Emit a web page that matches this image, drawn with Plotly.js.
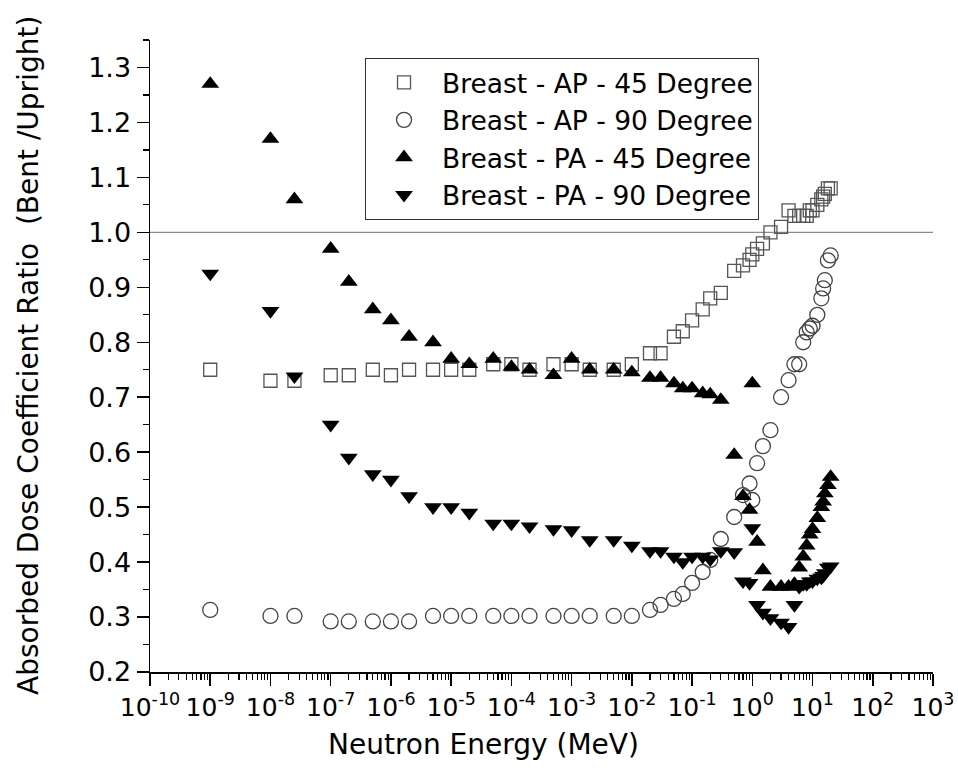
<!DOCTYPE html>
<html>
<head>
<meta charset="utf-8">
<script src="https://cdn.plot.ly/plotly-3.0.1.min.js"></script>
<style>html,body{margin:0;padding:0;background:#fff;}#chart{width:958px;height:777px;}</style>
</head>
<body>
<div id="chart"></div>
<script>
// Neutron energies (MeV)
const energy = [1e-9, 1e-8, 2.5e-8, 1e-7, 2e-7, 5e-7, 1e-6, 2e-6, 5e-6, 1e-5, 2e-5, 5e-5, 1e-4, 2e-4, 5e-4, 1e-3, 2e-3, 5e-3,
  0.01, 0.02, 0.03, 0.05, 0.07, 0.1, 0.15, 0.2, 0.3, 0.5, 0.7, 0.9, 1, 1.2, 1.5, 2, 3, 4, 5, 6, 7, 8, 9, 10, 12, 14, 15, 16, 18, 20];

const apDeg45 = [0.75, 0.73, 0.73, 0.74, 0.74, 0.75, 0.74, 0.75, 0.75, 0.75, 0.75, 0.76, 0.76, 0.75, 0.76, 0.76, 0.75, 0.75,
  0.76, 0.78, 0.78, 0.81, 0.82, 0.84, 0.86, 0.88, 0.89, 0.93, 0.94, 0.95, 0.96, 0.97, 0.98, 1.00, 1.01, 1.04, 1.03, 1.03, 1.03, 1.03, 1.04, 1.04, 1.05, 1.06, 1.065, 1.07, 1.08, 1.08];

const apDeg90 = [0.313, 0.302, 0.302, 0.292, 0.292, 0.292, 0.292, 0.292, 0.302, 0.302, 0.302, 0.302, 0.302, 0.302, 0.302, 0.302, 0.302, 0.302,
  0.302, 0.313, 0.322, 0.333, 0.342, 0.362, 0.382, 0.404, 0.442, 0.482, 0.522, 0.543, 0.513, 0.58, 0.611, 0.64, 0.70, 0.731, 0.76, 0.76, 0.80, 0.818, 0.825, 0.83, 0.85, 0.88, 0.898, 0.913, 0.949, 0.958];

const paDeg45 = [1.27, 1.17, 1.06, 0.97, 0.91, 0.86, 0.84, 0.81, 0.80, 0.77, 0.76, 0.77, 0.755, 0.75, 0.74, 0.77, 0.75, 0.75,
  0.745, 0.735, 0.735, 0.725, 0.716, 0.716, 0.707, 0.705, 0.695, 0.595, 0.52, 0.495, 0.725, 0.437, 0.385, 0.355, 0.355, 0.355, 0.36, 0.39, 0.41, 0.43, 0.45, 0.46, 0.48, 0.50, 0.51, 0.525, 0.54, 0.555];

const paDeg90 = [0.925, 0.857, 0.738, 0.65, 0.59, 0.56, 0.55, 0.52, 0.50, 0.50, 0.49, 0.47, 0.47, 0.465, 0.46, 0.458, 0.44, 0.44,
  0.43, 0.42, 0.42, 0.41, 0.40, 0.41, 0.41, 0.405, 0.42, 0.418, 0.365, 0.362, 0.462, 0.322, 0.308, 0.298, 0.29, 0.282, 0.322, 0.355, 0.36, 0.36, 0.365, 0.365, 0.37, 0.372, 0.375, 0.38, 0.39, 0.392];

const seriesNames = ['Breast - AP - 45 Degree', 'Breast - AP - 90 Degree', 'Breast - PA - 45 Degree', 'Breast - PA - 90 Degree'];

const xTickVals = [1e-10, 1e-9, 1e-8, 1e-7, 1e-6, 1e-5, 1e-4, 1e-3, 1e-2, 1e-1, 1e0, 1e1, 1e2, 1e3];
const xTickText = ['10<sup>-10</sup>', '10<sup>-9</sup>', '10<sup>-8</sup>', '10<sup>-7</sup>', '10<sup>-6</sup>', '10<sup>-5</sup>',
  '10<sup>-4</sup>', '10<sup>-3</sup>', '10<sup>-2</sup>', '10<sup>-1</sup>', '10<sup>0</sup>', '10<sup>1</sup>', '10<sup>2</sup>', '10<sup>3</sup>'];

const xTitle = 'Neutron Energy (MeV)';
const yTitle = 'Absorbed Dose Coefficient Ratio\u00A0 (Bent /Upright)';
const referenceRatio = 1.0;

const FONT = 'DejaVu Sans, Verdana, sans-serif';

const traces = [
  {x: energy, y: apDeg45, name: seriesNames[0], mode: 'markers', type: 'scatter',
   marker: {symbol: 'square-open', size: 13, color: '#555555', line: {width: 1.3}}},
  {x: energy, y: apDeg90, name: seriesNames[1], mode: 'markers', type: 'scatter',
   marker: {symbol: 'circle-open', size: 15, color: '#444444', line: {width: 1.3}}},
  {x: energy, y: paDeg45, name: seriesNames[2], mode: 'markers', type: 'scatter',
   marker: {symbol: 'triangle-up', size: 15.5, color: '#000000', line: {width: 0}}},
  {x: energy, y: paDeg90, name: seriesNames[3], mode: 'markers', type: 'scatter',
   marker: {symbol: 'triangle-down', size: 15.5, color: '#000000', line: {width: 0}}}
];

const layout = {
  width: 958, height: 777,
  margin: {l: 150, r: 25, t: 40, b: 105, pad: 0},
  paper_bgcolor: '#ffffff', plot_bgcolor: '#ffffff',
  font: {family: FONT, color: '#000000', size: 25},
  showlegend: true,
  legend: {
    x: 0.2746, y: 0.972, xanchor: 'left', yanchor: 'top',
    bordercolor: '#333333', borderwidth: 1, bgcolor: '#ffffff',
    font: {family: FONT, size: 26.5, color: '#000000'},
    itemwidth: 66, tracegroupgap: 0
  },
  xaxis: {
    type: 'log', range: [-10, 3], autorange: false,
    tickmode: 'array', tickvals: xTickVals, ticktext: xTickText,
    ticks: 'outside', ticklen: 12, tickwidth: 1.5, tickcolor: '#000',
    minor: {dtick: 'D1', ticks: 'outside', ticklen: 6, tickwidth: 1.2, tickcolor: '#000', showgrid: false},
    showline: true, linecolor: '#000', linewidth: 1.5,
    showgrid: false, zeroline: false,
    tickfont: {family: FONT, size: 25},
    automargin: false
  },
  yaxis: {
    range: [0.2, 1.35], autorange: false,
    tickmode: 'linear', tick0: 0.2, dtick: 0.1, tickformat: '.1f',
    ticks: 'outside', ticklen: 12, tickwidth: 1.5, tickcolor: '#000',
    minor: {dtick: 0.05, ticks: 'outside', ticklen: 6, tickwidth: 1.2, tickcolor: '#000', showgrid: false},
    showline: true, linecolor: '#000', linewidth: 1.5,
    showgrid: false, zeroline: false,
    tickfont: {family: FONT, size: 27},
    automargin: false
  },
  annotations: [
    {text: xTitle, xref: 'paper', yref: 'paper', x: 0.4253, y: -0.1155, xanchor: 'center', yanchor: 'middle',
     showarrow: false, font: {family: FONT, size: 28, color: '#000'}},
    {text: yTitle, xref: 'paper', yref: 'paper', x: -0.1558, y: 0.5, xanchor: 'center', yanchor: 'middle',
     textangle: -90, showarrow: false, font: {family: FONT, size: 28, color: '#000'}}
  ],
  shapes: [{type: 'line', xref: 'paper', x0: 0, x1: 1, yref: 'y', y0: referenceRatio, y1: referenceRatio,
    line: {color: '#8c8c8c', width: 1.2}, layer: 'below'}]
};

Plotly.newPlot('chart', traces, layout, {displayModeBar: false, staticPlot: true});
</script>
</body>
</html>
